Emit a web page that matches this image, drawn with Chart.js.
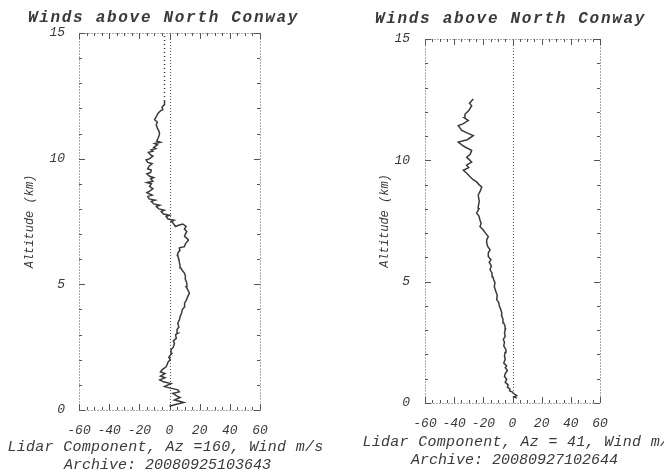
<!DOCTYPE html>
<html>
<head>
<meta charset="utf-8">
<script src="https://cdn.jsdelivr.net/npm/chart.js@4/dist/chart.umd.min.js"></script>
<style>
  html, body { margin: 0; padding: 0; background: #fff; }
  #wrap { position: relative; width: 664px; height: 476px; overflow: hidden; background: #fff; }
  canvas { position: absolute; top: 0; }
</style>
</head>
<body>
<div id="wrap">
  <canvas id="c1" width="332" height="476" style="left:0px"></canvas>
  <canvas id="c2" width="332" height="476" style="left:332px"></canvas>
</div>
<script>
// ---- Data ----
const chartTitle = "Winds above North Conway";
const yAxisTitle = "Altitude (km)";
const xTickValues = [-60, -40, -20, 0, 20, 40, 60];
const yTickValues = [0, 5, 10, 15];

const leftXTitle = ["Lidar Component, Az =160, Wind m/s", "Archive: 20080925103643"];
const rightXTitle = ["Lidar Component, Az = 41, Wind m/s", "Archive: 20080927102644"];

// Left panel: altitude (km) and wind (m/s)
const leftAlt = [
  0.15, 0.22, 0.3, 0.36, 0.4, 0.5, 0.55, 0.66, 0.72, 0.8,
  0.88, 0.93, 1.0, 1.05, 1.12, 1.2, 1.28, 1.35, 1.45, 1.52,
  1.6, 1.72, 1.9, 2.0, 2.1, 2.25, 2.4, 2.5, 2.65, 2.75,
  2.85, 3.0, 3.05, 3.2, 3.3, 3.45, 3.6, 3.75, 3.85, 4.0,
  4.1, 4.25, 4.35, 4.5, 4.65, 4.8, 4.9, 5.05, 5.2, 5.35,
  5.45, 5.55, 5.65, 5.75, 5.85, 6.0, 6.05, 6.15, 6.25, 6.35,
  6.45, 6.5, 6.6, 6.65, 6.75, 6.8, 6.9, 7.0, 7.1, 7.2,
  7.3, 7.4, 7.35, 7.3, 7.45, 7.5, 7.55, 7.6, 7.7, 7.75,
  7.8, 7.9, 7.95, 8.0, 8.1, 8.15, 8.2, 8.3, 8.35, 8.4,
  8.5, 8.55, 8.65, 8.7, 8.8, 8.9, 9.0, 9.05, 9.1, 9.2,
  9.25, 9.3, 9.4, 9.45, 9.55, 9.6, 9.7, 9.8, 9.85, 9.95,
  10.0, 10.1, 10.15, 10.25, 10.3, 10.35, 10.4, 10.45, 10.55, 10.6,
  10.65, 10.7, 10.8, 10.9, 11.0, 11.1, 11.2, 11.35, 11.45, 11.55,
  11.7, 11.8, 11.9, 11.95, 12.05, 12.15, 12.3, 12.8, 13.4, 14.0,
  14.5, 15.0];
const leftWind = [
  0, 4, 9.5, 6, 3.3, 7, 5, 2.2, 6.5, 5.5,
  0, -3.3, -1, 1, -4, -6.5, -3, -6, -3, -6,
  -5, -2.2, -1, 0.5, -0.5, 1.5, 1, 2.5, 3.3, 2.5,
  4.5, 4, 5.5, 5, 6.2, 5.5, 6.6, 7.2, 8, 8.5,
  9.9, 10, 11, 12, 13.2, 12, 11, 11.5, 10.5, 10.5,
  9.9, 8.5, 7.5, 7, 6.6, 6.2, 6, 5.2, 5.5, 6.8,
  6.6, 9.9, 10.5, 11, 12.5, 12.1, 10, 10.5, 11.5, 9.9,
  11, 8.8, 6, 4, 2.2, 1.1, 3, -1, -2.2, 0,
  -4, -5.5, -3.5, -7, -8.8, -6.5, -10.5, -12.1, -9.5, -13.5,
  -14.4, -11.5, -15, -13.5, -11, -13.2, -12, -15, -11, -12.5,
  -10.5, -13.2, -15, -12.5, -12.1, -14.5, -13.5, -11.5, -14.4, -15.5,
  -13.2, -11, -12.5, -14, -11, -12.1, -9, -10.5, -8, -9.9,
  -6, -8.5, -7.7, -7, -6.6, -7, -8, -8.8, -8, -9.9,
  -8.5, -7.7, -6, -4.4, -5, -3.5, -3.3, -3.2, -3.5, -3.2,
  -3.4, -3.3];

// Right panel: altitude (km) and wind (m/s)
const rightAlt = [
  0.2, 0.25, 0.3, 0.4, 0.45, 0.5, 0.57, 0.65, 0.75, 0.85,
  0.98, 1.1, 1.2, 1.35, 1.45, 1.53, 1.65, 1.8, 1.95, 2.08,
  2.2, 2.35, 2.5, 2.62, 2.75, 2.9, 3.05, 3.17, 3.3, 3.45,
  3.6, 3.72, 3.85, 4.0, 4.15, 4.26, 4.45, 4.6, 4.8, 4.95,
  5.1, 5.2, 5.35, 5.49, 5.65, 5.8, 5.9, 6.04, 6.18, 6.31,
  6.45, 6.59, 6.72, 6.86, 7.0, 7.13, 7.27, 7.4, 7.54, 7.7,
  7.82, 8.0, 8.09, 8.3, 8.57, 8.75, 8.9, 9.0, 9.11, 9.2,
  9.32, 9.45, 9.59, 9.7, 9.8, 9.93, 10.05, 10.13, 10.25, 10.41,
  10.55, 10.65, 10.75, 10.85, 11.02, 11.1, 11.23, 11.43, 11.5, 11.64,
  11.75, 11.9, 12.05, 12.25, 12.35, 12.53];
const rightWind = [
  3, 1, 2.9, 0.5, 0, -2, -1.7, -3.5, -3, -5,
  -4, -5.5, -5, -3.5, -5, -4, -6, -5, -5.5, -5.1,
  -4.5, -6, -5.5, -6.3, -5, -5.5, -4.8, -5.1, -6, -6.5,
  -7.5, -7.4, -8, -9, -9.5, -10.8, -10.5, -11.5, -12.5, -12,
  -13, -13.5, -14, -15.4, -14.5, -16, -14.8, -16.6, -16.6, -15.4,
  -17, -17.7, -17.7, -16.6, -18.5, -20, -22.3, -21.5, -22.3, -23,
  -24.6, -23, -23.5, -22.8, -23.5, -22, -21.1, -23, -24.6, -27,
  -29.1, -31, -33.7, -30, -31.5, -28, -30, -31.4, -29, -28,
  -32.6, -35, -37.2, -31, -26.9, -30, -34.8, -37.2, -34, -30.3,
  -33, -32.6, -30, -28, -29.5, -26.9];

// ---- Styling ----
const FONT = "'Liberation Mono', 'DejaVu Sans Mono', monospace";
const INK = '#3a3a3a';

const idlFrame = {
  id: 'idlFrame',
  beforeDatasetsDraw(chart) {
    const {ctx, chartArea: {left, right, top, bottom}, scales: {x, y}} = chart;
    ctx.save();
    ctx.strokeStyle = '#555';
    ctx.lineWidth = 1;
    const seg = (x1, y1, x2, y2) => { ctx.beginPath(); ctx.moveTo(x1, y1); ctx.lineTo(x2, y2); ctx.stroke(); };
    ctx.setLineDash([1, 2]);
    ctx.strokeRect(Math.round(left) + 0.5, Math.round(top) + 0.5, Math.round(right - left), Math.round(bottom - top));
    const x0 = Math.round(x.getPixelForValue(0)) + 0.5;
    seg(x0, top, x0, bottom);
    ctx.setLineDash([]);
    for (let v = x.min; v <= x.max + 1e-6; v += 5) {
      const len = (Math.abs(v % 20) < 1e-6) ? 6 : 3;
      const px = Math.round(x.getPixelForValue(v)) + 0.5;
      seg(px, bottom, px, bottom - len);
      seg(px, top, px, top + len);
    }
    for (let v = y.min; v <= y.max + 1e-6; v += 1) {
      const len = (Math.abs(v % 5) < 1e-6) ? 6 : 3;
      const py = Math.round(y.getPixelForValue(v)) + 0.5;
      seg(left, py, left + len, py);
      seg(right, py, right - len, py);
    }
    ctx.restore();
  }
};

function textPlugin(xTitle, T) {
  return {
    id: 'idlText',
    afterDraw(chart) {
      const {ctx, chartArea: {left, right, top, bottom}} = chart;
      const cx = (left + right) / 2;
      ctx.save();
      ctx.fillStyle = INK;
      ctx.textAlign = 'center';
      ctx.textBaseline = 'middle';
      ctx.font = 'italic bold 16px ' + FONT;
      ctx.letterSpacing = '1.7px';
      ctx.fillText(chartTitle, cx + T.titleDx, top - T.titleDy);
      ctx.font = 'italic 15px ' + FONT;
      ctx.letterSpacing = '0.3px';
      ctx.fillText(xTitle[0], cx + T.l1Dx, bottom + T.l1Dy);
      ctx.letterSpacing = '0px';
      ctx.fillText(xTitle[1], cx + T.l2Dx, bottom + T.l2Dy);
      ctx.restore();
    }
  };
}

function makeChart(canvasId, alt, wind, xTitle, L) {
  const pts = alt.map((a, i) => ({x: wind[i], y: a}));
  return new Chart(document.getElementById(canvasId), {
    type: 'scatter',
    data: {
      datasets: [{
        data: pts,
        showLine: true,
        borderColor: INK,
        borderWidth: 1.5,
        pointRadius: 0,
        tension: 0,
        segment: {
          borderDash: c => (c.p0.parsed.y >= L.dashAbove ? [1, 3] : undefined)
        }
      }]
    },
    options: {
      responsive: false,
      animation: false,
      devicePixelRatio: 1,
      layout: {padding: {left: L.padL, right: L.padR, top: L.padT, bottom: L.padB}},
      plugins: {
        legend: {display: false},
        tooltip: {enabled: false},
        title: {display: false}
      },
      scales: {
        x: {
          type: 'linear',
          min: -60, max: 60,
          grid: {display: false},
          border: {display: false},
          afterBuildTicks: s => { s.ticks = xTickValues.map(v => ({value: v})); },
          afterFit: s => { s.height = 30; },
          ticks: {
            color: INK, padding: L.xTickPad, maxRotation: 0, autoSkip: false,
            font: {family: FONT, size: 13, style: 'italic'}
          }
        },
        y: {
          type: 'linear',
          min: 0, max: 15,
          grid: {display: false},
          border: {display: false},
          afterBuildTicks: s => { s.ticks = yTickValues.map(v => ({value: v})); },
          afterFit: s => { s.width = L.yW; },
          ticks: {
            color: INK, padding: L.yTickPad,
            font: {family: FONT, size: 13, style: 'italic'}
          },
          title: {
            display: true, text: yAxisTitle, color: INK,
            padding: {top: 0, bottom: 0},
            font: {family: FONT, size: 12, style: 'italic', lineHeight: 1.2}
          }
        }
      }
    },
    plugins: [idlFrame, textPlugin(xTitle, L.text)]
  });
}

makeChart('c1', leftAlt, leftWind, leftXTitle,
  {padL: 23, padR: 72, padT: 33, padB: 36, yW: 56, xTickPad: 5, yTickPad: 6, dashAbove: 12.3,
   text: {titleDx: -6, titleDy: 15, l1Dx: -4, l1Dy: 37, l2Dx: -2, l2Dy: 55}});
makeChart('c2', rightAlt, rightWind, rightXTitle,
  {padL: 46, padR: 64, padT: 39, padB: 43, yW: 47, xTickPad: 5, yTickPad: 7, dashAbove: 99,
   text: {titleDx: -2, titleDy: 20, l1Dx: 8, l1Dy: 39, l2Dx: 2, l2Dy: 57}});
</script>
</body>
</html>
